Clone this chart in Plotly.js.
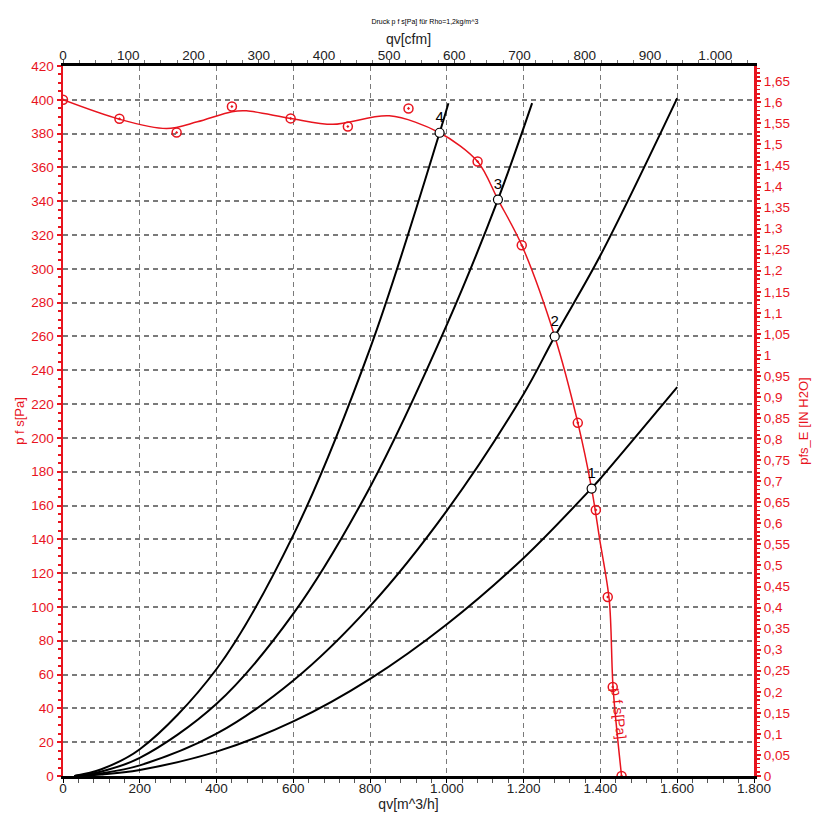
<!DOCTYPE html>
<html>
<head>
<meta charset="utf-8">
<script src="https://cdn.plot.ly/plotly-3.0.1.min.js"></script>
<style>html,body{margin:0;padding:0;background:#fff}#chart{width:825px;height:840px}</style>
</head>
<body>
<div id="chart"></div>
<script>
// Fan curve p_f s [Pa] (smooth fit)
const fanCurveQ = [0, 147, 270, 350, 440, 478, 593, 703, 850, 981, 1080, 1133, 1195, 1281, 1341, 1377, 1398, 1423, 1433, 1455];
const fanCurveP = [400, 388.5, 383, 387, 393, 393.5, 389, 385.5, 390.5, 380.5, 363.5, 341, 314, 260, 209, 170, 140, 104, 52, 0];
// Measured points (red circle markers)
const measQ = [0, 147, 296, 440, 593, 742, 900, 1080, 1195, 1341, 1388, 1419, 1432, 1455];
const measP = [400, 388.8, 380.7, 396, 389, 384.2, 394.9, 363.5, 314, 208.9, 157.4, 105.9, 52.7, 0];
// System (resistance) curves 1..4
const sys1Q = [30, 100, 200, 400, 600, 800, 1000, 1200, 1376, 1400, 1600];
const sys1P = [0, 0.9, 3.6, 14.4, 32.3, 57.5, 89.8, 129, 170, 176, 230];
const sys2Q = [30, 100, 200, 400, 600, 800, 1000, 1200, 1281, 1400, 1600];
const sys2P = [0, 1.6, 6.3, 25, 56.5, 100.5, 157, 226, 260, 308, 401];
const sys3Q = [30, 100, 200, 400, 600, 800, 1000, 1133, 1222];
const sys3P = [0, 2.7, 10.7, 42.7, 96, 171, 267, 341, 398];
const sys4Q = [30, 100, 200, 400, 600, 800, 981, 1004];
const sys4P = [0, 4, 15.8, 63.3, 142.5, 253, 380.5, 398];
// Operating points
const opLabels = ["1", "2", "3", "4"];
const opQ = [1377, 1281, 1133, 981];
const opP = [170, 260, 341, 380.5];
// Axis ranges / conversions
const qMax = 1800;           // m^3/h
const pMax = 420;            // Pa
const cfmMax = 1059.4;       // 1800 m^3/h in cfm
const inH2OMax = 1.6862;     // 420 Pa in inch H2O

const RED = '#e8141e';
const FONT = 'Liberation Sans, Arial, sans-serif';
const TICK = 13.5;

const sysStyle = {mode: 'lines', line: {color: '#000', width: 2, shape: 'spline'}, hoverinfo: 'skip', showlegend: false};
const traces = [
  Object.assign({x: sys1Q, y: sys1P}, sysStyle),
  Object.assign({x: sys2Q, y: sys2P}, sysStyle),
  Object.assign({x: sys3Q, y: sys3P}, sysStyle),
  Object.assign({x: sys4Q, y: sys4P}, sysStyle),
  {x: fanCurveQ, y: fanCurveP, mode: 'lines', line: {color: RED, width: 1.5, shape: 'spline', smoothing: 0.9}, showlegend: false},
  {x: measQ, y: measP, mode: 'markers', marker: {symbol: 'circle-open-dot', color: RED, size: 9, line: {width: 1.5}}, showlegend: false},
  {x: opQ, y: opP, mode: 'markers+text', text: opLabels, textposition: 'top center',
   textfont: {family: FONT, size: 15, color: '#000'},
   marker: {symbol: 'circle', color: '#fff', size: 9, line: {color: '#000', width: 1.2}}, showlegend: false},
  // empty traces so the secondary axes (cfm, inch H2O) are drawn
  {x: [], y: [], xaxis: 'x2', yaxis: 'y', mode: 'markers', showlegend: false, hoverinfo: 'skip'},
  {x: [], y: [], xaxis: 'x', yaxis: 'y2', mode: 'markers', showlegend: false, hoverinfo: 'skip'}
];

const layout = {
  width: 825, height: 840,
  margin: {l: 63, r: 71, t: 66, b: 64},
  paper_bgcolor: '#fff', plot_bgcolor: '#fff',
  separators: ',.',
  font: {family: FONT, size: 14, color: '#000'},
  showlegend: false,
  title: {text: 'Druck p f s[Pa] für Rho=1,2kg/m^3', font: {family: FONT, size: 7, color: '#000'},
          x: 0.515, xanchor: 'center', y: 0.974, yanchor: 'middle'},
  xaxis: {
    range: [0, qMax], dtick: 200, tick0: 0, separatethousands: true, autorange: false,
    showline: true, linecolor: '#000', linewidth: 3, mirror: false,
    ticks: 'outside', ticklen: 4, tickcolor: '#000', tickwidth: 1, ticklabelstandoff: -6,
    minor: {dtick: 40, ticks: 'outside', ticklen: 4, tickcolor: '#555', showgrid: false},
    showgrid: true, gridcolor: '#7a7a7a', griddash: '5px,4px', gridwidth: 1,
    zeroline: false,
    tickfont: {family: FONT, size: TICK, color: '#222'},
    title: {text: 'qv[m^3/h]', font: {family: FONT, size: 14, color: '#222'}, standoff: 0}
  },
  xaxis2: {
    overlaying: 'x', side: 'top', anchor: 'y', autorange: false,
    range: [0, cfmMax], dtick: 100, tick0: 0, separatethousands: true,
    showline: true, linecolor: '#000', linewidth: 3,
    ticks: 'outside', ticklen: 3, tickcolor: '#555', ticklabelstandoff: -5,
    minor: {dtick: 25, ticks: 'outside', ticklen: 3, tickcolor: '#777', showgrid: false},
    showgrid: false, zeroline: false,
    tickfont: {family: FONT, size: TICK, color: '#222'},
    title: {text: 'qv[cfm]', font: {family: FONT, size: 14, color: '#222'}, standoff: 0}
  },
  yaxis: {
    range: [0, pMax], dtick: 20, tick0: 0, autorange: false,
    showline: true, linecolor: RED, linewidth: 2.5,
    ticks: 'outside', ticklen: 4, tickcolor: RED, tickwidth: 2,
    minor: {dtick: 5, ticks: 'outside', ticklen: 3, tickcolor: RED, tickwidth: 2, showgrid: false},
    showgrid: true, gridcolor: '#7a7a7a', griddash: '5px,4px', gridwidth: 2,
    zeroline: false,
    tickfont: {family: FONT, size: TICK, color: RED},
    title: {text: 'p f s[Pa]', font: {family: FONT, size: 13, color: RED}, standoff: 4}
  },
  yaxis2: {
    overlaying: 'y', side: 'right', anchor: 'x', autorange: false,
    range: [0, inH2OMax], dtick: 0.05, tick0: 0,
    showline: true, linecolor: RED, linewidth: 3,
    ticks: 'outside', ticklen: 4, tickcolor: RED, tickwidth: 2,
    minor: {dtick: 0.01, ticks: 'outside', ticklen: 3, tickcolor: RED, tickwidth: 1.5, showgrid: false},
    showgrid: false, zeroline: false,
    tickfont: {family: FONT, size: TICK, color: RED},
    title: {text: 'pfs_E [IN H2O]', font: {family: FONT, size: 13, color: RED}, standoff: 10}
  },
  annotations: [
    {x: 1447, y: 37, xref: 'x', yref: 'y', text: 'p f s[Pa]', showarrow: false, textangle: 84,
     font: {family: FONT, size: 14, color: RED}}
  ]
};

Plotly.newPlot('chart', traces, layout, {displayModeBar: false, staticPlot: true});
</script>
</body>
</html>
